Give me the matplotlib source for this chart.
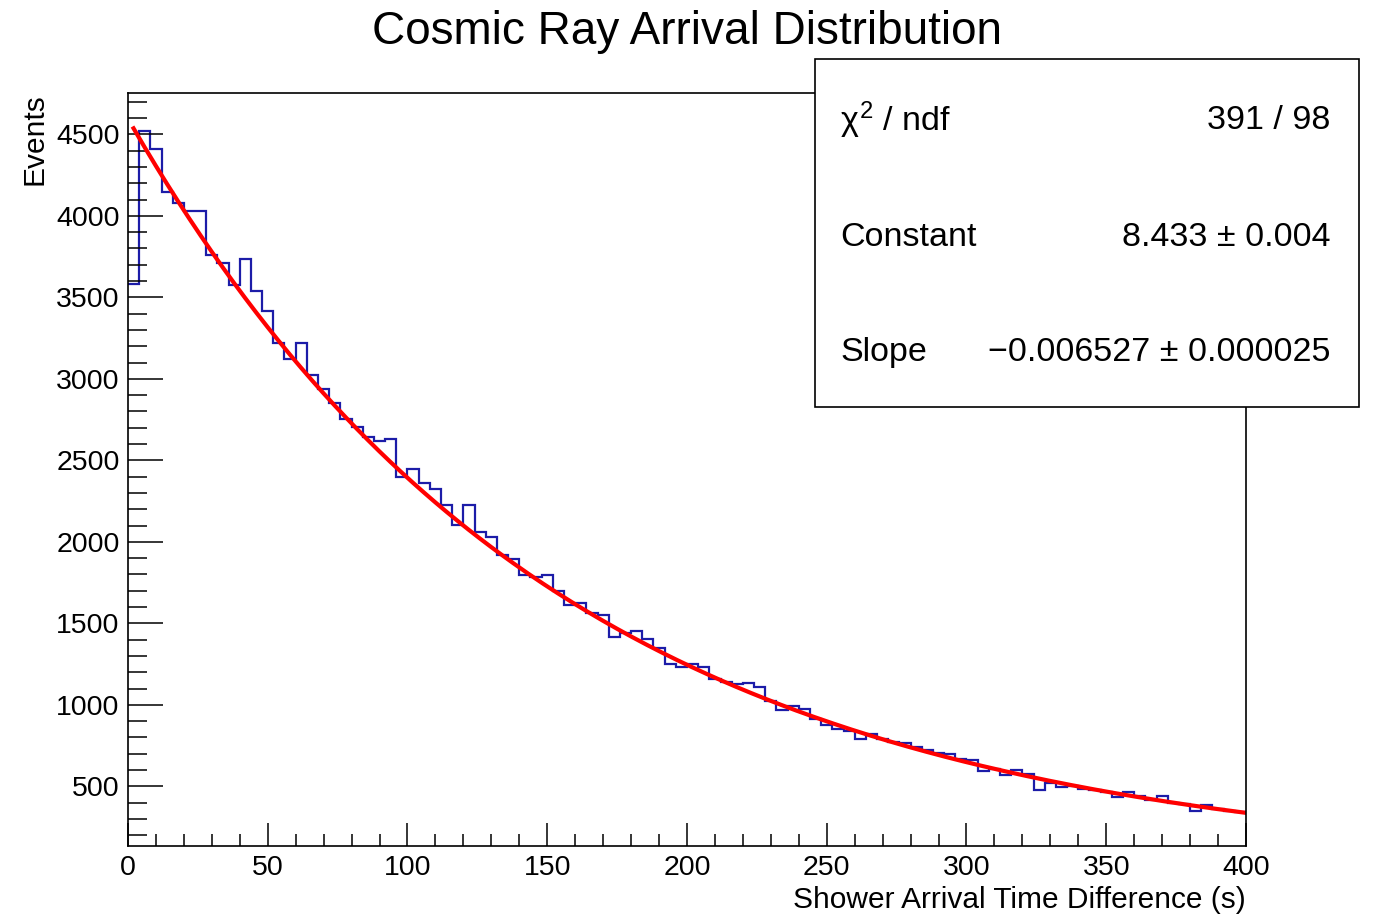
import numpy as np
import matplotlib
matplotlib.use("Agg")
import matplotlib.pyplot as plt
from matplotlib.patches import Rectangle
from matplotlib.ticker import MultipleLocator

plt.rcParams["font.family"] = ["Liberation Sans", "DejaVu Sans"]
plt.rcParams["mathtext.fontset"] = "custom"
plt.rcParams["mathtext.rm"] = "Liberation Sans"
plt.rcParams["mathtext.it"] = "Liberation Sans"

# 100 bins of 4 s between 0 and 400 s
BIN_EDGES = np.linspace(0, 400, 101)
COUNTS = [
    3580, 4521, 4410, 4144, 4080, 4031, 4031, 3760, 3708, 3575,
    3733, 3539, 3416, 3222, 3122, 3218, 3023, 2939, 2850, 2753,
    2706, 2641, 2617, 2631, 2396, 2445, 2359, 2326, 2224, 2101,
    2224, 2062, 2029, 1919, 1893, 1794, 1782, 1796, 1698, 1610,
    1623, 1565, 1549, 1414, 1439, 1453, 1402, 1349, 1252, 1230,
    1250, 1230, 1158, 1139, 1129, 1132, 1111, 1021, 970, 995,
    972, 911, 874, 850, 839, 788, 819, 788, 774, 764,
    743, 723, 706, 700, 666, 661, 596, 604, 567, 600,
    576, 477, 518, 494, 504, 482, 477, 467, 433, 463,
    440, 416, 440, 399, 391, 347, 385, 361, 350, 344,
]

# exponential fit: exp(constant + slope * t)
FIT_CONSTANT = 8.433
FIT_CONSTANT_ERR = 0.004
FIT_SLOPE = -0.006527
FIT_SLOPE_ERR = 0.000025
CHI2 = 391
NDF = 98
FIT_RANGE = (2, 400)

fig = plt.figure(figsize=(13.73, 9.14), dpi=100)
ax = fig.add_axes([0.0932, 0.0747, 0.8143, 0.8233])

ax.stairs(COUNTS, BIN_EDGES, baseline=None, color="#1c1ca8", linewidth=1.6)

t = np.linspace(FIT_RANGE[0], FIT_RANGE[1], 300)
ax.plot(t, np.exp(FIT_CONSTANT + FIT_SLOPE * t), color="#ff0000", linewidth=3)

ax.set_xlim(0, 400)
ax.set_ylim(136, 4752)

ax.xaxis.set_major_locator(MultipleLocator(50))
ax.xaxis.set_minor_locator(MultipleLocator(10))
ax.yaxis.set_major_locator(MultipleLocator(500))
ax.yaxis.set_minor_locator(MultipleLocator(100))

ax.tick_params(axis="both", which="both", direction="in", top=False, right=False,
               width=1.1, labelsize=20.5)
ax.tick_params(axis="x", which="major", length=16.5, pad=7)
ax.tick_params(axis="x", which="minor", length=8.5)
ax.tick_params(axis="y", which="major", length=25, pad=6)
ax.tick_params(axis="y", which="minor", length=13.5)
for spine in ax.spines.values():
    spine.set_linewidth(1.2)

ax.set_xlabel("Shower Arrival Time Difference (s)", fontsize=21.5, loc="right")
ax.xaxis.set_label_coords(1.0, -0.053)
ax.set_ylabel("Events", fontsize=21.5, loc="top")
ax.yaxis.set_label_coords(-0.071, 1.0)

fig.text(0.5, 0.965, "Cosmic Ray Arrival Distribution", fontsize=33,
         ha="center", va="center")

# statistics box
fig.add_artist(Rectangle((0.5936, 0.5547), 0.3962, 0.3807, transform=fig.transFigure,
                         facecolor="white", edgecolor="black", linewidth=1.2, zorder=5))
rows = [
    (r"$\chi^{2}$ / ndf", f"{CHI2} / {NDF}", 0.868),
    ("Constant", f"{FIT_CONSTANT:.3f} ± {FIT_CONSTANT_ERR:.3f}", 0.740),
    ("Slope", f"−{abs(FIT_SLOPE):.6f} ± {FIT_SLOPE_ERR:.6f}", 0.614),
]
for name, value, y in rows:
    fig.text(0.6118, y, name, fontsize=24.5, ha="left", va="center", zorder=6)
    fig.text(0.9687, y, value, fontsize=24.5, ha="right", va="center", zorder=6)

fig.savefig("out.png", dpi=100, facecolor="white")
